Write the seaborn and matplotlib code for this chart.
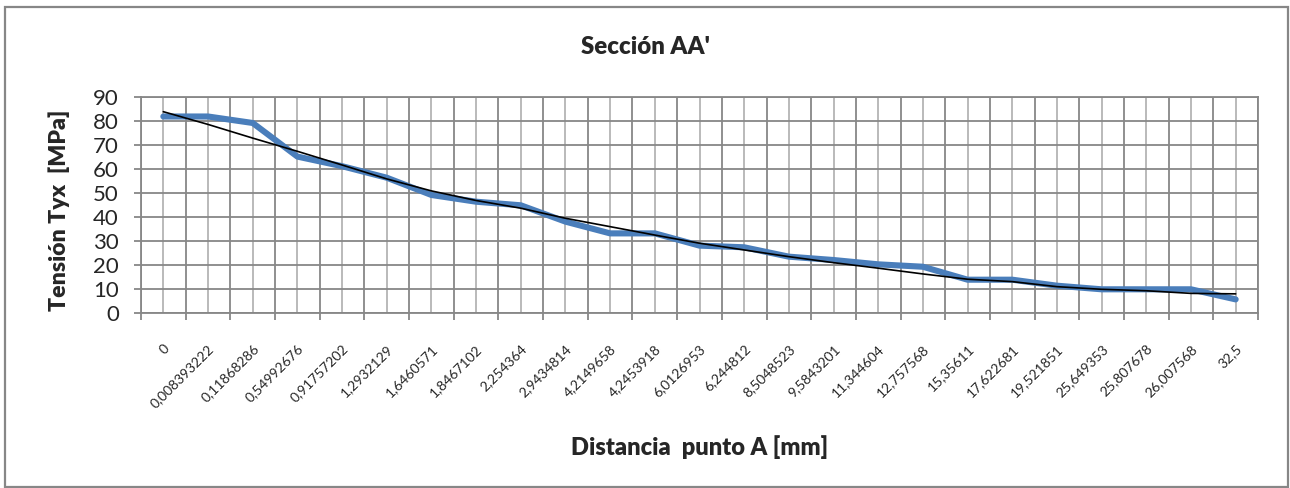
import numpy as np
import pandas as pd
import matplotlib
matplotlib.use("Agg")
import matplotlib.pyplot as plt
import matplotlib.transforms as mtransforms
from matplotlib.patches import Rectangle
import seaborn as sns

# Distance from point A along section AA' [mm] (category labels, comma decimals)
distancia_labels = [
    "0", "0,008393222", "0,11868286", "0,54992676", "0,91757202",
    "1,2932129", "1,6460571", "1,8467102", "2,254364", "2,9434814",
    "4,2149658", "4,2453918", "6,0126953", "6,244812", "8,5048523",
    "9,5843201", "11,344604", "12,757568", "15,35611", "17,622681",
    "19,521851", "25,649353", "25,807678", "26,007568", "32,5",
]

# Shear stress Tyx [MPa] at each station
tension = [
    82.0, 82.0, 79.3, 65.3, 61.3, 56.5, 49.3, 46.5, 45.0, 38.2,
    33.3, 33.3, 28.2, 27.5, 23.6, 22.2, 20.4, 19.4, 14.0, 14.0,
    11.5, 10.0, 10.0, 10.0, 5.8,
]

# Smoothed trend of the stress
tendencia = [
    84.0, 78.7, 73.0, 67.5, 61.8, 56.0, 51.0, 47.0, 43.8, 39.6,
    36.1, 32.6, 29.2, 26.4, 23.6, 21.1, 18.8, 16.4, 14.2, 13.2,
    11.1, 10.0, 9.4, 8.3, 8.1,
]

y_ticks = [0, 10, 20, 30, 40, 50, 60, 70, 80, 90]

sns.set_style("white")
plt.rcParams["font.family"] = ["Lato", "DejaVu Sans"]

DARK = "#878787"
LIGHT = "#B4B4B4"
BLUE = "#4A7EBB"

W, H = 1290, 488
fig = plt.figure(figsize=(W / 100, H / 100), dpi=100)
fig.patch.set_facecolor("white")

# outer chart frame
fig.add_artist(Rectangle((5 / W, 1 / H), (1288 - 5) / W, (481 - 1) / H,
                         transform=fig.transFigure, fill=False,
                         edgecolor=DARK, linewidth=1.6))

left, right, top, bottom = 141, 1258, 97.3, 313.3
ax = fig.add_axes([left / W, 1 - bottom / H, (right - left) / W, (bottom - top) / H])

n = len(distancia_labels)
df = pd.DataFrame({
    "pos": np.arange(n),
    "tension": tension,
    "tendencia": tendencia,
})

sns.lineplot(data=df, x="pos", y="tension", color=BLUE, linewidth=4.4,
             solid_capstyle="round", solid_joinstyle="round", ax=ax, zorder=3)
sns.lineplot(data=df, x="pos", y="tendencia", color="black", linewidth=1.2,
             ax=ax, zorder=4)

ax.set_xlim(-0.5, n - 0.5)
ax.set_ylim(0, 90)

# category labels at the points, tick marks between categories
ax.set_xticks(np.arange(n))
ax.set_xticklabels(distancia_labels, rotation=45, ha="right", va="center",
                   rotation_mode="anchor", fontsize=10)
ax.set_xticks(np.arange(-0.5, n, 1.0), minor=True)
ax.tick_params(axis="x", which="major", length=0, pad=24)
ax.tick_params(axis="x", which="minor", length=5, width=1.3, color=DARK,
               direction="out", bottom=True)
shift = mtransforms.ScaledTranslation(4 / 100, 0, fig.dpi_scale_trans)
for lbl in ax.get_xticklabels():
    lbl.set_transform(lbl.get_transform() + shift)

ax.set_yticks(y_ticks)
ax.set_yticklabels([str(v) for v in y_ticks], fontsize=16)
ax.tick_params(axis="y", which="major", length=5, width=1.3, color=DARK,
               direction="out", pad=11, left=True)

ax.grid(which="major", axis="x", color=LIGHT, linewidth=1.3)
ax.grid(which="minor", axis="x", color=DARK, linewidth=1.3)
ax.grid(which="major", axis="y", color=DARK, linewidth=1.3)
ax.set_axisbelow(True)

for sp in ax.spines.values():
    sp.set_color(DARK)
    sp.set_linewidth(1.3)

ax.set_xlabel("")
ax.set_ylabel("")

fig.text(645 / W, 1 - 47 / H, "Sección AA'", ha="center", va="center",
         fontsize=17.3, fontweight=800)
fig.text(700 / W, 1 - 447 / H, "Distancia  punto A [mm]", ha="center",
         va="center", fontsize=17, fontweight=800)
fig.text(59 / W, 1 - 210 / H, "Tensión Tyx  [MPa]", ha="center", va="center",
         rotation=90, fontsize=16.6, fontweight=800)

fig.savefig("out.png", dpi=100, facecolor="white")
